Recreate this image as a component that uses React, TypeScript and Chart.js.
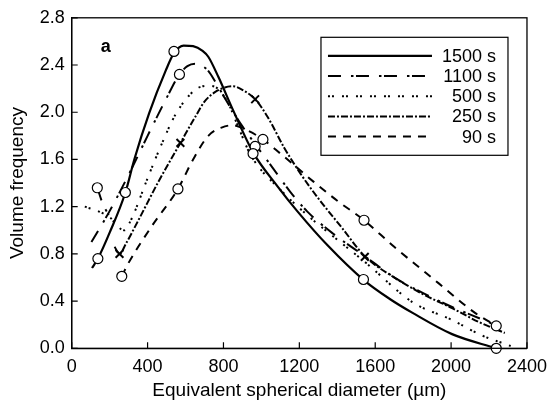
import React, { useEffect, useRef } from "react";
import { Chart, registerables } from "chart.js";

Chart.register(...registerables);

// ---- data ----
const seriesLabels = ["1500 s", "1100 s", "500 s", "250 s", "90 s"];

const x1500 = [107, 138, 200, 283, 330, 408, 495, 539, 590, 640, 690, 720, 773, 850, 956, 1086, 1190, 1350, 1538, 1675, 1797, 2005, 2238];
const y1500 = [0.68, 0.76, 0.98, 1.32, 1.6, 1.99, 2.35, 2.5, 2.565, 2.56, 2.52, 2.47, 2.3, 2.02, 1.66, 1.37, 1.16, 0.87, 0.58, 0.42, 0.3, 0.12, 0.0];

const x1100 = [104, 199, 300, 400, 500, 568, 610, 651, 690, 720, 760, 807, 900, 967, 1050, 1150, 1241, 1379, 1545, 1711, 1850, 2005, 2213, 2238];
const y1100 = [0.9, 1.16, 1.47, 1.8, 2.12, 2.32, 2.39, 2.41, 2.39, 2.35, 2.25, 2.12, 1.88, 1.73, 1.55, 1.33, 1.16, 0.97, 0.78, 0.59, 0.47, 0.35, 0.21, 0.19];
const x1100Start = [135, 165, 195];
const y1100Start = [1.36, 1.22, 1.13];

const x500 = [69, 156, 208, 243, 278, 304, 338, 390, 477, 547, 651, 720, 770, 830, 877, 946, 1102, 1241, 1400, 1554, 1797, 2005, 2161, 2314];
const y500 = [1.2, 1.15, 1.1, 1.03, 1.0, 1.06, 1.18, 1.4, 1.74, 1.98, 2.19, 2.225, 2.2, 2.06, 1.88, 1.63, 1.34, 1.13, 0.92, 0.72, 0.39, 0.24, 0.11, 0.02];

const x250 = [226, 252, 287, 350, 460, 573, 651, 700, 755, 807, 850, 910, 967, 1033, 1120, 1206, 1300, 1420, 1545, 1700, 1850, 2005, 2150, 2283];
const y250 = [0.86, 0.8, 0.89, 1.08, 1.42, 1.74, 1.96, 2.09, 2.17, 2.21, 2.22, 2.18, 2.11, 1.96, 1.7, 1.48, 1.27, 1.03, 0.78, 0.6, 0.46, 0.34, 0.22, 0.13];

const x90 = [264, 295, 420, 560, 640, 720, 790, 850, 920, 1008, 1100, 1276, 1400, 1541, 1700, 1935, 2126, 2238];
const y90 = [0.61, 0.71, 1.03, 1.35, 1.6, 1.8, 1.87, 1.89, 1.85, 1.77, 1.65, 1.41, 1.25, 1.085, 0.86, 0.55, 0.3, 0.19];

const circleX = [138, 283, 539, 568, 560, 135, 264, 967, 956, 1008, 1541, 1538, 2238, 2238];
const circleY = [0.76, 1.32, 2.515, 2.32, 1.35, 1.36, 0.61, 1.71, 1.65, 1.77, 1.085, 0.583, 0.19, 0.0];

const crossX = [252, 573, 967, 1545];
const crossY = [0.8, 1.74, 2.11, 0.775];

const xTicks = [0, 400, 800, 1200, 1600, 2000, 2400];
const yTicks = [0, 0.4, 0.8, 1.2, 1.6, 2.0, 2.4, 2.8];

const panelLabel = "a";
const xTitle = "Equivalent spherical diameter (\u00b5m)";
const yTitle = "Volume frequency";

// ---- helpers ----
const zip = (xs: number[], ys: number[]) => xs.map((x, i) => ({ x, y: ys[i] }));
const FONT = "'Liberation Sans', Arial, Helvetica, sans-serif";

const dashes: number[][] = [[], [13, 10, 2.5, 2.5], [2, 2, 2, 8], [7, 2, 2, 2], [8, 7]];

const framePlugin = {
  id: "frameAndLegend",
  afterDatasetsDraw(chart: any) {
    const { ctx, chartArea } = chart;
    const { left, right, top, bottom } = chartArea;
    const xs = chart.scales.x;
    const ys = chart.scales.y;
    ctx.save();
    // frame
    ctx.strokeStyle = "#000";
    ctx.lineWidth = 1.3;
    ctx.setLineDash([]);
    ctx.strokeRect(left, top, right - left, bottom - top);
    // inner ticks
    ctx.lineWidth = 1.2;
    ctx.beginPath();
    xTicks.forEach((v) => {
      const px = xs.getPixelForValue(v);
      ctx.moveTo(px, bottom);
      ctx.lineTo(px, bottom - 6);
    });
    yTicks.forEach((v) => {
      const py = ys.getPixelForValue(v);
      ctx.moveTo(left, py);
      ctx.lineTo(left + 6, py);
    });
    ctx.stroke();

    // panel label
    ctx.fillStyle = "#000";
    ctx.font = "bold 18px " + FONT;
    ctx.textAlign = "left";
    ctx.textBaseline = "middle";
    ctx.fillText(panelLabel, left + 29, top + 29);

    // legend
    const boxRight = right - 19;
    const boxLeft = boxRight - 187;
    const boxTop = top + 19.5;
    const boxH = 118;
    ctx.fillStyle = "#fff";
    ctx.fillRect(boxLeft, boxTop, boxRight - boxLeft, boxH);
    ctx.strokeStyle = "#000";
    ctx.lineWidth = 1.2;
    ctx.strokeRect(boxLeft, boxTop, boxRight - boxLeft, boxH);
    ctx.font = "18px " + FONT;
    ctx.textAlign = "right";
    ctx.textBaseline = "middle";
    seriesLabels.forEach((lab, i) => {
      const ds = chart.data.datasets.find((d: any) => d.label === lab);
      const y = boxTop + 18.5 + i * 20.2;
      ctx.beginPath();
      ctx.lineWidth = ds.borderWidth;
      ctx.setLineDash(ds.borderDash || []);
      ctx.moveTo(boxLeft + 7, y);
      ctx.lineTo(boxLeft + 111, y);
      ctx.stroke();
      ctx.setLineDash([]);
      ctx.fillStyle = "#000";
      ctx.fillText(lab, boxRight - 12, y + 1);
    });
    ctx.restore();
  },
};

export default function App() {
  const ref = useRef<HTMLCanvasElement | null>(null);
  useEffect(() => {
    if (!ref.current) return;
    const lineXs = [x1500, x1100, x500, x250, x90];
    const lineYs = [y1500, y1100, y500, y250, y90];
    const lineSets: any[] = seriesLabels.map((lab, i) => ({
      label: lab,
      type: "line",
      data: zip(lineXs[i], lineYs[i]),
      borderColor: "#000",
      borderWidth: i === 0 ? 2.2 : 2,
      borderDash: dashes[i],
      pointRadius: 0,
      fill: false,
      cubicInterpolationMode: "monotone",
      clip: false,
    }));
    const extra: any = {
      label: "1100 s start",
      type: "line",
      data: zip(x1100Start, y1100Start),
      borderColor: "#000",
      borderWidth: 2,
      borderDash: dashes[1],
      pointRadius: 0,
      fill: false,
      cubicInterpolationMode: "monotone",
    };
    const markers: any[] = [
      {
        label: "circles",
        type: "scatter",
        data: zip(circleX, circleY),
        pointStyle: "circle",
        pointRadius: 5,
        backgroundColor: "#fff",
        borderColor: "#000",
        borderWidth: 1.2,
        showLine: false,
        clip: false,
      },
      {
        label: "crosses",
        type: "scatter",
        data: zip(crossX, crossY),
        pointStyle: "crossRot",
        pointRadius: 5.5,
        borderColor: "#000",
        borderWidth: 2,
        showLine: false,
        clip: false,
      },
    ];
    const chart = new Chart(ref.current, {
      type: "line",
      data: { datasets: [...markers, ...lineSets, extra] },
      options: {
        responsive: false,
        animation: false,
        events: [],
        layout: { padding: { left: 0, top: 16.5, right: 22.5, bottom: 0 } },
        plugins: { legend: { display: false }, tooltip: { enabled: false } },
        scales: {
          x: {
            type: "linear",
            min: 0,
            max: 2400,
            afterBuildTicks: (s: any) => {
              s.ticks = xTicks.map((v) => ({ value: v }));
            },
            afterFit: (s: any) => {
              s.height = 58.7;
            },
            grid: { display: false, drawTicks: false },
            border: { display: true, color: "#000", width: 1.3 },
            ticks: {
              color: "#000",
              padding: 8,
              maxRotation: 0,
              font: { family: FONT, size: 18 },
              callback: (v: any) => String(v),
            },
            title: {
              display: true,
              text: xTitle,
              color: "#000",
              font: { family: FONT, size: 19 },
              padding: { top: 0, bottom: 4.6 },
            },
          },
          y: {
            type: "linear",
            min: 0,
            max: 2.8,
            afterBuildTicks: (s: any) => {
              s.ticks = yTicks.map((v) => ({ value: v }));
            },
            afterFit: (s: any) => {
              s.width = 71.7;
            },
            grid: { display: false, drawTicks: false },
            border: { display: true, color: "#000", width: 1.3 },
            ticks: {
              color: "#000",
              padding: 7,
              font: { family: FONT, size: 18 },
              callback: (v: any) => Number(v).toFixed(1),
            },
            title: {
              display: true,
              text: yTitle,
              color: "#000",
              font: { family: FONT, size: 19 },
              padding: { top: 6.1, bottom: 0 },
            },
          },
        },
      },
      plugins: [framePlugin],
    } as any);
    return () => chart.destroy();
  }, []);
  return (
    <div style={{ position: "fixed", left: 0, top: 0, width: 555, height: 407, background: "#fff" }}>
      <canvas ref={ref} width={555} height={407} style={{ display: "block" }} />
    </div>
  );
}
